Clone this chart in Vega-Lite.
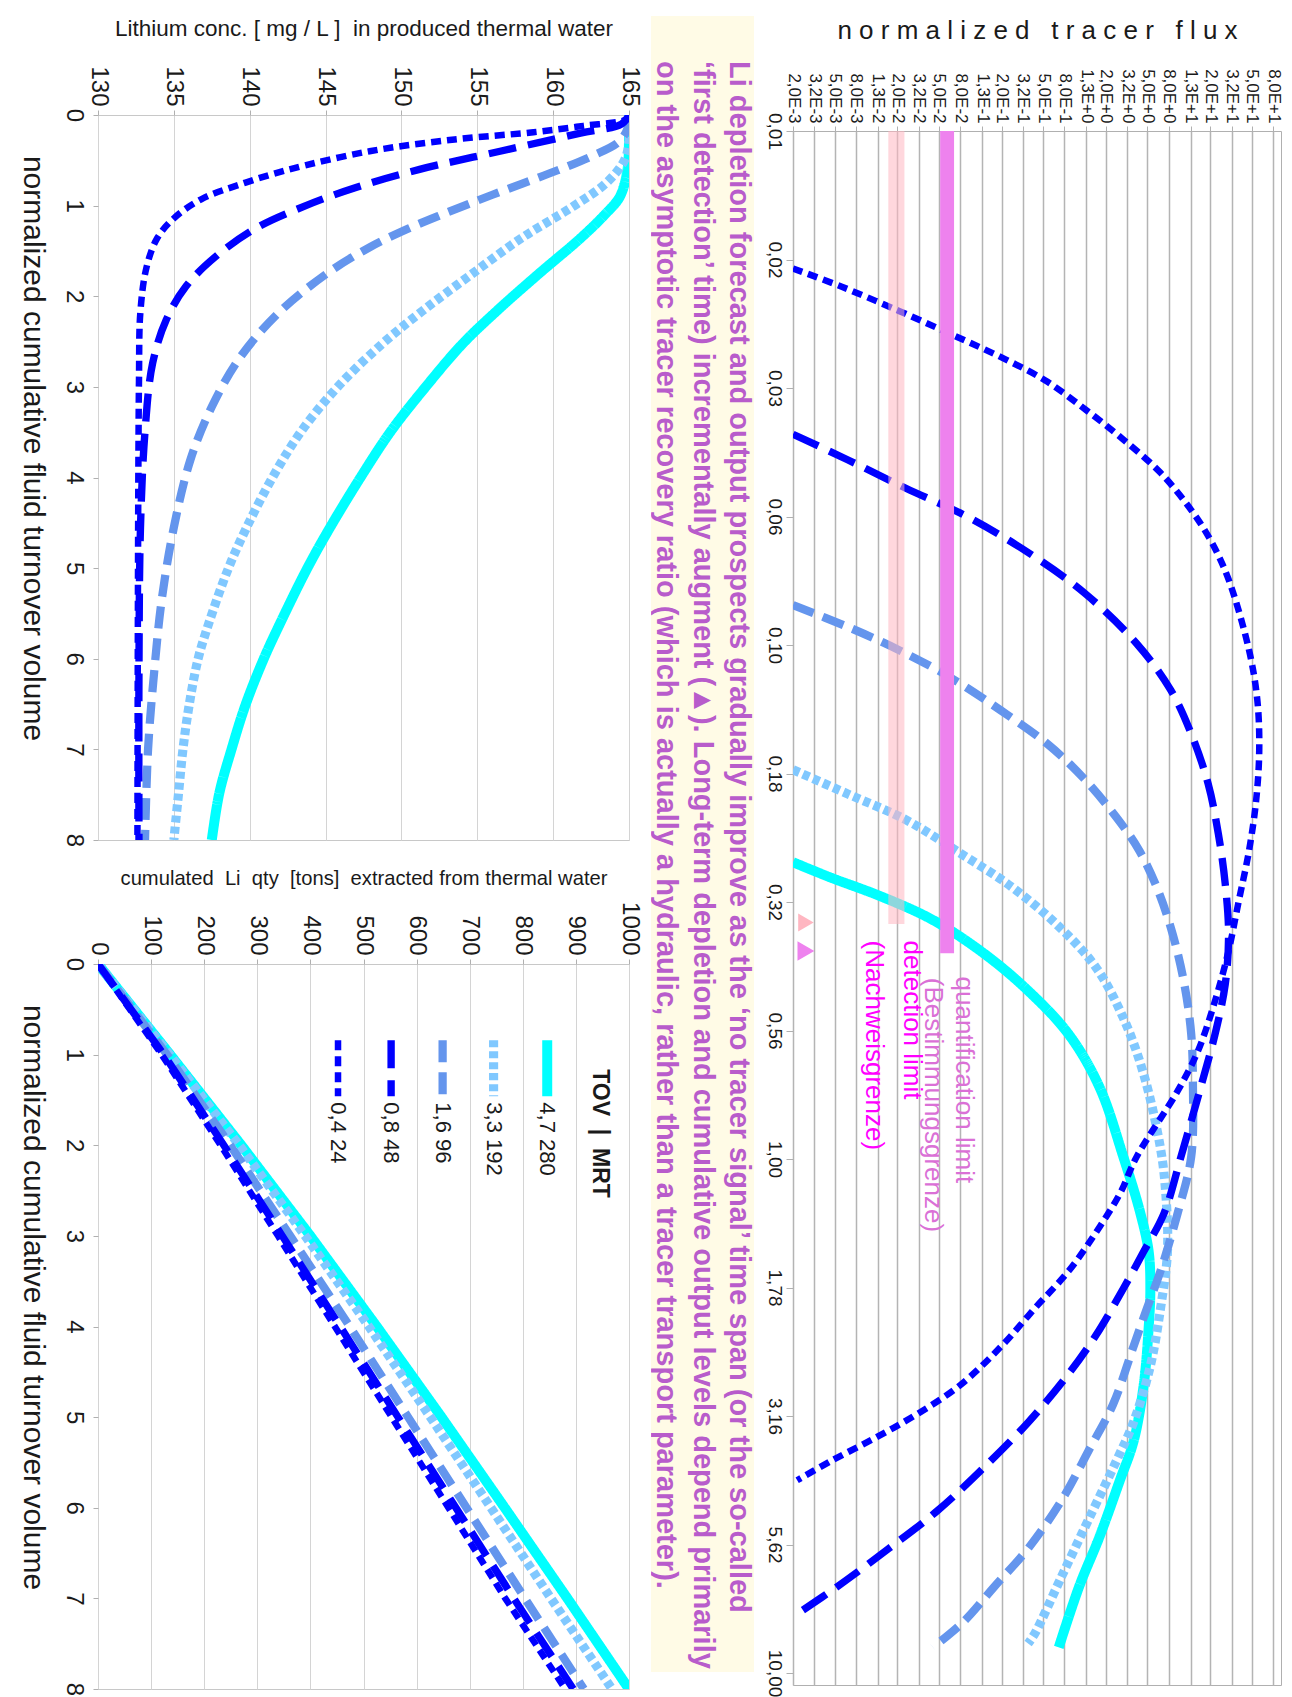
{
 "$schema": "https://vega.github.io/schema/vega-lite/v6.json",
 "background": "white",
 "padding": {"left": 16, "top": 16, "right": 0, "bottom": 0},
 "config": {
  "font": "Liberation Sans",
  "view": {"stroke": "#c8c8c8", "strokeWidth": 1},
  "axis": {"labelFont": "Liberation Sans", "titleFont": "Liberation Sans", "labelColor": "#1a1a1a", "titleColor": "#1a1a1a", "titleFontWeight": "normal", "labelOverlap": false, "labelFlush": false, "domain": false, "tickColor": "#b0b0b0"}
 },
 "datasets": {
  "conc": [
   {"s":"s1","V":0,"c":165},{"s":"s1","V":0.3,"c":165},{"s":"s1","V":0.6,"c":164.9},{"s":"s1","V":0.9,"c":164.4},{"s":"s1","V":1.1,"c":163.4},{"s":"s1","V":1.36,"c":161.8},{"s":"s1","V":1.76,"c":159},{"s":"s1","V":2.16,"c":156.3},{"s":"s1","V":2.53,"c":154},{"s":"s1","V":3.0,"c":151.6},{"s":"s1","V":3.49,"c":149.3},{"s":"s1","V":4.0,"c":147.3},{"s":"s1","V":4.55,"c":145.3},{"s":"s1","V":5.0,"c":143.8},{"s":"s1","V":5.61,"c":142},{"s":"s1","V":6.01,"c":140.9},{"s":"s1","V":6.52,"c":139.7},{"s":"s1","V":7.0,"c":138.8},{"s":"s1","V":7.48,"c":138},{"s":"s1","V":8,"c":137.5},
   {"s":"s2","V":0,"c":165},{"s":"s2","V":0.3,"c":165},{"s":"s2","V":0.5,"c":164.7},{"s":"s2","V":0.75,"c":163.5},{"s":"s2","V":1.0,"c":161.4},{"s":"s2","V":1.36,"c":157.9},{"s":"s2","V":1.76,"c":154.6},{"s":"s2","V":2.16,"c":151.4},{"s":"s2","V":2.53,"c":148.7},{"s":"s2","V":3.0,"c":145.8},{"s":"s2","V":3.49,"c":143.4},{"s":"s2","V":4.0,"c":141.5},{"s":"s2","V":4.55,"c":139.8},{"s":"s2","V":5.0,"c":138.6},{"s":"s2","V":5.61,"c":137.3},{"s":"s2","V":6.0,"c":136.6},{"s":"s2","V":6.52,"c":136.0},{"s":"s2","V":7.0,"c":135.6},{"s":"s2","V":7.5,"c":135.3},{"s":"s2","V":8,"c":135.0},
   {"s":"s3","V":0,"c":165},{"s":"s3","V":0.15,"c":164.9},{"s":"s3","V":0.3,"c":164.3},{"s":"s3","V":0.45,"c":162.6},{"s":"s3","V":0.61,"c":160.3},{"s":"s3","V":0.88,"c":156},{"s":"s3","V":1.09,"c":152.8},{"s":"s3","V":1.25,"c":150.5},{"s":"s3","V":1.46,"c":147.9},{"s":"s3","V":1.76,"c":145},{"s":"s3","V":2.2,"c":141.8},{"s":"s3","V":2.69,"c":139.3},{"s":"s3","V":3.22,"c":137.5},{"s":"s3","V":3.8,"c":136.1},{"s":"s3","V":4.55,"c":135.0},{"s":"s3","V":5.35,"c":134.2},{"s":"s3","V":6.15,"c":133.7},{"s":"s3","V":7,"c":133.3},{"s":"s3","V":8,"c":133.1},
   {"s":"s4","V":0,"c":165},{"s":"s4","V":0.1,"c":164.5},{"s":"s4","V":0.2,"c":161.8},{"s":"s4","V":0.4,"c":156.5},{"s":"s4","V":0.6,"c":151.2},{"s":"s4","V":0.8,"c":147},{"s":"s4","V":1.0,"c":143.7},{"s":"s4","V":1.25,"c":140.4},{"s":"s4","V":1.57,"c":137.7},{"s":"s4","V":1.89,"c":135.8},{"s":"s4","V":2.26,"c":134.5},{"s":"s4","V":2.74,"c":133.6},{"s":"s4","V":3.49,"c":133.1},{"s":"s4","V":4.55,"c":132.8},{"s":"s4","V":6.15,"c":132.7},{"s":"s4","V":8,"c":132.7},
   {"s":"s5","V":0,"c":165},{"s":"s5","V":0.05,"c":164.8},{"s":"s5","V":0.12,"c":162},{"s":"s5","V":0.19,"c":158.7},{"s":"s5","V":0.27,"c":153.5},{"s":"s5","V":0.4,"c":147.9},{"s":"s5","V":0.61,"c":142.4},{"s":"s5","V":0.77,"c":139.3},{"s":"s5","V":0.93,"c":136.8},{"s":"s5","V":1.14,"c":135},{"s":"s5","V":1.36,"c":133.9},{"s":"s5","V":1.68,"c":133.2},{"s":"s5","V":2.16,"c":132.8},{"s":"s5","V":2.95,"c":132.7},{"s":"s5","V":8,"c":132.6}
  ],
  "qty": [
   {"s":"s1","V":0,"q":0},{"s":"s1","V":1,"q":136},{"s":"s1","V":2,"q":270},{"s":"s1","V":3,"q":400},{"s":"s1","V":4,"q":525},{"s":"s1","V":5,"q":647},{"s":"s1","V":6,"q":766},{"s":"s1","V":7,"q":884},{"s":"s1","V":8,"q":1000},
   {"s":"s2","V":0,"q":0},{"s":"s2","V":1,"q":135},{"s":"s2","V":2,"q":266},{"s":"s2","V":3,"q":390},{"s":"s2","V":4,"q":510},{"s":"s2","V":5,"q":626},{"s":"s2","V":6,"q":740},{"s":"s2","V":7,"q":853},{"s":"s2","V":8,"q":968},
   {"s":"s3","V":0,"q":0},{"s":"s3","V":1,"q":130},{"s":"s3","V":2,"q":249},{"s":"s3","V":3,"q":362},{"s":"s3","V":4,"q":474},{"s":"s3","V":5,"q":584},{"s":"s3","V":6,"q":694},{"s":"s3","V":7,"q":804},{"s":"s3","V":8,"q":915},
   {"s":"s4","V":0,"q":0},{"s":"s4","V":1,"q":124},{"s":"s4","V":2,"q":237},{"s":"s4","V":3,"q":347},{"s":"s4","V":4,"q":456},{"s":"s4","V":5,"q":565},{"s":"s4","V":6,"q":674},{"s":"s4","V":7,"q":783},{"s":"s4","V":8,"q":895},
   {"s":"s5","V":0,"q":0},{"s":"s5","V":1,"q":120},{"s":"s5","V":2,"q":231},{"s":"s5","V":3,"q":339},{"s":"s5","V":4,"q":446},{"s":"s5","V":5,"q":553},{"s":"s5","V":6,"q":660},{"s":"s5","V":7,"q":767},{"s":"s5","V":8,"q":880}
  ],
  "legend": [
   {"s":"s1","q":846,"V":0.84,"V2":1.46,"label":"4,7 280"},
   {"s":"s2","q":745,"V":0.84,"V2":1.46,"label":"3,3 192"},
   {"s":"s3","q":649,"V":0.84,"V2":1.46,"label":"1,6 96"},
   {"s":"s4","q":552,"V":0.84,"V2":1.46,"label":"0,8 48"},
   {"s":"s5","q":452,"V":0.84,"V2":1.46,"label":"0,4 24"}
  ],
  "legendTitle": [{"q":946,"V":1.16,"txt":"TOV \u00a0|\u00a0 MRT"}],
  "note": [
   {"line":1,"txt":"Li depletion forecast and output prospects gradually improve as the ‘no tracer signal’ time span (or the so-called"},
   {"line":2,"txt":"‘first detection’ time) incrementally augment (▲). Long-term depletion and cumulative output levels depend primarily"},
   {"line":3,"txt":"on the asymptotic tracer recovery ratio (which is actually a hydraulic, rather than a tracer transport parameter)."}
  ],
  "spacer": [{"a":1}],
  "flux": [
   {"s":"s1","t":0.2646,"f":0.002},{"s":"s1","t":0.2835,"f":0.004624},{"s":"s1","t":0.309,"f":0.01429},{"s":"s1","t":0.3428,"f":0.04395},{"s":"s1","t":0.3981,"f":0.1352},{"s":"s1","t":0.4704,"f":0.3589},{"s":"s1","t":0.5722,"f":0.881},{"s":"s1","t":0.7244,"f":1.734},{"s":"s1","t":0.9886,"f":2.931},{"s":"s1","t":1.274,"f":4.276},{"s":"s1","t":1.514,"f":5.14},{"s":"s1","t":1.788,"f":5.333},{"s":"s1","t":2.126,"f":5.14},{"s":"s1","t":2.754,"f":4.603},{"s":"s1","t":3.548,"f":3.673},{"s":"s1","t":4.217,"f":2.723},{"s":"s1","t":5.433,"f":1.734},{"s":"s1","t":6.8,"f":1.104},{"s":"s1","t":8.913,"f":0.7063},
   {"s":"s2","t":0.1748,"f":0.002},{"s":"s2","t":0.195,"f":0.006745},{"s":"s2","t":0.2188,"f":0.02415},{"s":"s2","t":0.2541,"f":0.07998},{"s":"s2","t":0.2951,"f":0.2472},{"s":"s2","t":0.3527,"f":0.7063},{"s":"s2","t":0.4241,"f":1.61},{"s":"s2","t":0.5309,"f":2.931},{"s":"s2","t":0.6839,"f":4.603},{"s":"s2","t":0.955,"f":6.683},{"s":"s2","t":1.168,"f":7.499},{"s":"s2","t":1.514,"f":7.78},{"s":"s2","t":1.95,"f":6.683},{"s":"s2","t":2.526,"f":5.333},{"s":"s2","t":3.254,"f":3.673},{"s":"s2","t":3.868,"f":2.518},{"s":"s2","t":4.842,"f":1.489},{"s":"s2","t":6.457,"f":0.7603},{"s":"s2","t":8.366,"f":0.4178},{"s":"s2","t":8.759,"f":0.3589},
   {"s":"s3","t":0.08365,"f":0.002},{"s":"s3","t":0.09226,"f":0.006745},{"s":"s3","t":0.1023,"f":0.02075},{"s":"s3","t":0.1155,"f":0.06383},{"s":"s3","t":0.1341,"f":0.1972},{"s":"s3","t":0.1558,"f":0.5508},{"s":"s3","t":0.181,"f":1.205},{"s":"s3","t":0.2163,"f":2.518},{"s":"s3","t":0.2512,"f":4.178},{"s":"s3","t":0.3003,"f":6.324},{"s":"s3","t":0.3652,"f":8.73},{"s":"s3","t":0.4571,"f":11.3},{"s":"s3","t":0.5722,"f":13.15},{"s":"s3","t":0.7161,"f":13.65},{"s":"s3","t":0.9886,"f":13.15},{"s":"s3","t":1.274,"f":9.75},{"s":"s3","t":1.65,"f":6.683},{"s":"s3","t":1.95,"f":4.955},{"s":"s3","t":2.317,"f":3.673},{"s":"s3","t":3.003,"f":2.339},{"s":"s3","t":3.673,"f":1.384},{"s":"s3","t":4.597,"f":0.7603},{"s":"s3","t":5.722,"f":0.3589},{"s":"s3","t":6.8,"f":0.1694},{"s":"s3","t":7.943,"f":0.0865},{"s":"s3","t":8.913,"f":0.04395},
   {"s":"s4","t":0.0389,"f":0.002},{"s":"s4","t":0.04365,"f":0.006745},{"s":"s4","t":0.04955,"f":0.02415},{"s":"s4","t":0.05623,"f":0.0931},{"s":"s4","t":0.06607,"f":0.3589},{"s":"s4","t":0.0794,"f":1.262},{"s":"s4","t":0.09943,"f":3.954},{"s":"s4","t":0.1224,"f":8.375},{"s":"s4","t":0.1488,"f":13.15},{"s":"s4","t":0.1862,"f":19.1},{"s":"s4","t":0.233,"f":23.93},{"s":"s4","t":0.2917,"f":27.86},{"s":"s4","t":0.3652,"f":29.99},{"s":"s4","t":0.4571,"f":27.86},{"s":"s4","t":0.5722,"f":22.23},{"s":"s4","t":0.7161,"f":16.48},{"s":"s4","t":0.9886,"f":10.5},{"s":"s4","t":1.274,"f":7.228},{"s":"s4","t":1.514,"f":4.603},{"s":"s4","t":1.788,"f":2.931},{"s":"s4","t":2.2,"f":1.61},{"s":"s4","t":2.615,"f":0.881},{"s":"s4","t":3.254,"f":0.3589},{"s":"s4","t":4.074,"f":0.1205},{"s":"s4","t":4.842,"f":0.04797},{"s":"s4","t":5.722,"f":0.01663},{"s":"s4","t":6.8,"f":0.00526},{"s":"s4","t":7.674,"f":0.002193},
   {"s":"s5","t":0.01851,"f":0.002},{"s":"s5","t":0.02007,"f":0.005794},{"s":"s5","t":0.02239,"f":0.02075},{"s":"s5","t":0.02497,"f":0.069},{"s":"s5","t":0.02754,"f":0.1972},{"s":"s5","t":0.03055,"f":0.5212},{"s":"s5","t":0.03487,"f":1.285},{"s":"s5","t":0.03981,"f":2.931},{"s":"s5","t":0.04624,"f":6.683},{"s":"s5","t":0.05463,"f":13.15},{"s":"s5","t":0.0631,"f":20.65},{"s":"s5","t":0.07456,"f":29.99},{"s":"s5","t":0.1023,"f":47.1},{"s":"s5","t":0.1281,"f":56.6},{"s":"s5","t":0.1603,"f":59.0},{"s":"s5","t":0.2007,"f":55.1},{"s":"s5","t":0.2512,"f":47.1},{"s":"s5","t":0.3145,"f":37.58},{"s":"s5","t":0.3936,"f":29.99},{"s":"s5","t":0.4926,"f":22.23},{"s":"s5","t":0.6166,"f":15.24},{"s":"s5","t":0.737,"f":9.75},{"s":"s5","t":0.9886,"f":3.954},{"s":"s5","t":1.168,"f":2.723},{"s":"s5","t":1.388,"f":1.61},{"s":"s5","t":1.65,"f":0.881},{"s":"s5","t":1.95,"f":0.4178},{"s":"s5","t":2.317,"f":0.1972},{"s":"s5","t":2.754,"f":0.07998},{"s":"s5","t":3.144,"f":0.03027},{"s":"s5","t":3.487,"f":0.01227},{"s":"s5","t":3.868,"f":0.004624},{"s":"s5","t":4.217,"f":0.002193}
  ],
  "bands": [
   {"kind":"d","f1":0.0164,"f2":0.0234,"t1":0.01,"t2":0.349},
   {"kind":"q","f1":0.0515,"f2":0.070,"t1":0.01,"t2":0.398}
  ],
  "marks": [
   {"kind":"d","f":0.00266,"t":0.3467},
   {"kind":"q","f":0.00266,"t":0.3936}
  ],
  "limitText": [
   {"kind":"q","f":0.0865,"t":0.4416,"txt":"quantification limit"},
   {"kind":"q","f":0.04375,"t":0.444,"txt":"(Bestimmungsgrenze)"},
   {"kind":"d","f":0.02749,"t":0.3758,"txt":"detection limit"},
   {"kind":"d","f":0.01194,"t":0.3758,"txt":"(Nachweisgrenze)"}
  ]
 },
 "spacing": 9,
 "hconcat": [
  {
   "spacing": 0,
   "vconcat": [
    {"width": 5, "height": 1, "view": {"stroke": null}, "data": {"name": "spacer"}, "mark": {"type": "point", "size": 0, "opacity": 0}, "encoding": {}},
    {
     "spacing": 20,
     "vconcat": [
      {
       "width": 531, "height": 725,
       "data": {"name": "conc"},
       "mark": {"type": "line", "clip": true, "interpolate": "catmull-rom"},
       "encoding": {
        "x": {"field": "c", "type": "quantitative", "scale": {"domain": [130, 165], "nice": false, "zero": false},
         "axis": {"orient": "top", "values": [130,135,140,145,150,155,160,165], "format": "d", "labelAngle": 90, "labelAlign": "right", "labelBaseline": "middle", "labelFontSize": 24, "labelPadding": 4, "tickSize": 5, "grid": true, "gridColor": "#d4d4d4", "title": "Lithium conc. [ mg / L ]\u00a0 in produced thermal water", "titleFontSize": 22.5, "titlePadding": 25}},
        "y": {"field": "V", "type": "quantitative", "scale": {"domain": [0, 8], "reverse": true, "nice": false},
         "axis": {"orient": "left", "values": [0,1,2,3,4,5,6,7,8], "format": "d", "labelAngle": 90, "labelAlign": "center", "labelBaseline": "top", "labelFontSize": 24, "labelPadding": 8, "tickSize": 5, "grid": false, "title": "normalized cumulative fluid turnover volume", "titleFontSize": 30, "titleAngle": 90, "titleBaseline": "top", "titlePadding": 14, "titleY": 333}},
        "color": {"field": "s", "type": "nominal", "scale": {"domain": ["s1","s2","s3","s4","s5"], "range": ["#00FFFF","#80C8FF","#6495ED","#0000FF","#0000FF"]}, "legend": null},
        "strokeDash": {"field": "s", "type": "nominal", "scale": {"domain": ["s1","s2","s3","s4","s5"], "range": [[1,0],[7,4],[22,10],[28,12],[10,6]]}, "legend": null},
        "strokeWidth": {"field": "s", "type": "ordinal", "scale": {"domain": ["s1","s2","s3","s4","s5"], "range": [10,6.5,6,9,9]}, "legend": null},
        "order": {"field": "V", "type": "quantitative"}
       }
      },
      {
       "width": 531, "height": 725,
       "layer": [
        {
         "data": {"name": "qty"},
         "mark": {"type": "line", "clip": true},
         "encoding": {
          "x": {"field": "q", "type": "quantitative", "scale": {"domain": [0, 1000], "nice": false},
           "axis": {"orient": "top", "values": [0,100,200,300,400,500,600,700,800,900,1000], "format": "d", "labelAngle": 90, "labelAlign": "right", "labelBaseline": "middle", "labelFontSize": 24, "labelPadding": 4, "tickSize": 5, "grid": true, "gridColor": "#d4d4d4", "title": "cumulated\u00a0 Li\u00a0 qty\u00a0 [tons]\u00a0 extracted from thermal water", "titleFontSize": 20.2, "titlePadding": 13}},
          "y": {"field": "V", "type": "quantitative", "scale": {"domain": [0, 8], "reverse": true, "nice": false},
           "axis": {"orient": "left", "values": [0,1,2,3,4,5,6,7,8], "format": "d", "labelAngle": 90, "labelAlign": "center", "labelBaseline": "top", "labelFontSize": 24, "labelPadding": 8, "tickSize": 5, "grid": false, "title": "normalized cumulative fluid turnover volume", "titleFontSize": 30, "titleAngle": 90, "titleBaseline": "top", "titlePadding": 14, "titleY": 333}},
          "color": {"field": "s", "type": "nominal", "scale": {"domain": ["s1","s2","s3","s4","s5"], "range": ["#00FFFF","#80C8FF","#6495ED","#0000FF","#0000FF"]}, "legend": null},
          "strokeDash": {"field": "s", "type": "nominal", "scale": {"domain": ["s1","s2","s3","s4","s5"], "range": [[1,0],[6,4],[18,9],[22,9],[9,5]]}, "legend": null},
          "strokeWidth": {"field": "s", "type": "ordinal", "scale": {"domain": ["s1","s2","s3","s4","s5"], "range": [9,6,7,10,10]}, "legend": null},
          "order": {"field": "V", "type": "quantitative"}
         }
        },
        {
         "data": {"name": "legend"},
         "mark": {"type": "rule"},
         "encoding": {
          "x": {"field": "q", "type": "quantitative"},
          "y": {"field": "V", "type": "quantitative"},
          "y2": {"field": "V2"},
          "color": {"field": "s", "type": "nominal", "legend": null},
          "strokeDash": {"field": "s", "type": "nominal", "legend": null},
          "strokeWidth": {"field": "s", "type": "ordinal", "legend": null}
         }
        },
        {
         "data": {"name": "legend"},
         "mark": {"type": "text", "angle": 90, "align": "left", "baseline": "middle", "fontSize": 22, "color": "#1a1a1a", "dx": 6},
         "encoding": {
          "x": {"field": "q", "type": "quantitative"},
          "y": {"field": "V2", "type": "quantitative"},
          "text": {"field": "label"}
         }
        },
        {
         "data": {"name": "legendTitle"},
         "mark": {"type": "text", "angle": 90, "align": "left", "baseline": "middle", "fontSize": 23, "fontWeight": "bold", "color": "#1a1a1a"},
         "encoding": {
          "x": {"field": "q", "type": "quantitative"},
          "y": {"field": "V", "type": "quantitative"},
          "text": {"field": "txt"}
         }
        }
       ]
      }
     ]
    }
   ]
  },
  {
   "width": 103, "height": 1656,
   "view": {"stroke": null, "fill": "#FFFBE6"},
   "data": {"name": "note"},
   "mark": {"type": "text", "angle": 90, "align": "left", "baseline": "middle", "font": "Liberation Sans", "fontWeight": "bold", "fontSize": 29, "color": "#B85CCB", "dx": -783, "clip": true},
   "encoding": {
    "x": {"field": "line", "type": "ordinal", "scale": {"domain": [3, 2, 1], "padding": 0.43}, "axis": null},
    "text": {"field": "txt"}
   }
  },
  {
   "spacing": 0,
   "vconcat": [
    {"width": 5, "height": 1, "view": {"stroke": null}, "data": {"name": "spacer"}, "mark": {"type": "point", "size": 0, "opacity": 0}, "encoding": {}},
    {
     "width": 488, "height": 1554,
     "view": {"stroke": "#b0b0b0"},
     "layer": [
      {
       "data": {"name": "flux"},
       "mark": {"type": "line", "clip": true, "interpolate": "catmull-rom"},
       "encoding": {
        "x": {"field": "f", "type": "quantitative", "scale": {"type": "log", "domain": [0.002, 95.4], "nice": false},
         "axis": {"orient": "top", "values": [0.002,0.0032,0.005,0.008,0.013,0.02,0.032,0.05,0.08,0.13,0.2,0.32,0.5,0.8,1.3,2,3.2,5,8,13,20,32,50,80], "labelExpr": "replace(replace(format(datum.value, '.1e'), '.', ','), 'e', 'E')", "labelAngle": 90, "labelAlign": "right", "labelBaseline": "middle", "labelFontSize": 17, "labelPadding": 3, "tickSize": 5, "grid": true, "gridColor": "#b4b4b4", "gridWidth": 1.5, "title": "n o r m a l i z e d \u00a0 t r a c e r \u00a0 f l u x", "titleFontSize": 26, "titlePadding": 25}},
        "y": {"field": "t", "type": "quantitative", "scale": {"type": "log", "domain": [0.01, 10.55], "reverse": true, "nice": false},
         "axis": {"orient": "left", "values": [0.01,0.017783,0.031623,0.056234,0.1,0.177828,0.316228,0.562341,1,1.778279,3.162278,5.623413,10], "labelExpr": "replace(format(datum.value, '.2f'), '.', ',')", "labelAngle": 90, "labelAlign": "center", "labelBaseline": "top", "labelFontSize": 19, "labelPadding": 3, "tickSize": 7, "grid": false, "title": null}},
        "color": {"field": "s", "type": "nominal", "scale": {"domain": ["s1","s2","s3","s4","s5"], "range": ["#00FFFF","#80C8FF","#6495ED","#0000FF","#0000FF"]}, "legend": null},
        "strokeDash": {"field": "s", "type": "nominal", "scale": {"domain": ["s1","s2","s3","s4","s5"], "range": [[1,0],[19,13],[10,7],[24,12],[11,7]]}, "legend": null},
        "strokeWidth": {"field": "s", "type": "ordinal", "scale": {"domain": ["s1","s2","s3","s4","s5"], "range": [13,10,10,12,11]}, "legend": null},
        "order": {"field": "t", "type": "quantitative"}
       }
      },
      {
       "data": {"name": "bands"},
       "transform": [{"filter": "datum.kind == 'd'"}],
       "mark": {"type": "rect", "color": "#FFB6C1", "opacity": 0.55},
       "encoding": {
        "x": {"field": "f1", "type": "quantitative"}, "x2": {"field": "f2"},
        "y": {"field": "t1", "type": "quantitative"}, "y2": {"field": "t2"}
       }
      },
      {
       "data": {"name": "bands"},
       "transform": [{"filter": "datum.kind == 'q'"}],
       "mark": {"type": "rect", "color": "#EE82EE"},
       "encoding": {
        "x": {"field": "f1", "type": "quantitative"}, "x2": {"field": "f2"},
        "y": {"field": "t1", "type": "quantitative"}, "y2": {"field": "t2"}
       }
      },
      {
       "data": {"name": "marks"},
       "transform": [{"filter": "datum.kind == 'd'"}],
       "mark": {"type": "point", "shape": "triangle-right", "filled": true, "size": 320, "color": "#FFB6C1", "opacity": 1},
       "encoding": {
        "x": {"field": "f", "type": "quantitative"},
        "y": {"field": "t", "type": "quantitative"}
       }
      },
      {
       "data": {"name": "marks"},
       "transform": [{"filter": "datum.kind == 'q'"}],
       "mark": {"type": "point", "shape": "triangle-right", "filled": true, "size": 380, "color": "#EE82EE", "opacity": 1},
       "encoding": {
        "x": {"field": "f", "type": "quantitative"},
        "y": {"field": "t", "type": "quantitative"}
       }
      },
      {
       "data": {"name": "limitText"},
       "transform": [{"filter": "datum.kind == 'q'"}],
       "mark": {"type": "text", "angle": 90, "align": "left", "baseline": "middle", "fontSize": 26, "color": "#DA70D6"},
       "encoding": {
        "x": {"field": "f", "type": "quantitative"},
        "y": {"field": "t", "type": "quantitative"},
        "text": {"field": "txt"}
       }
      },
      {
       "data": {"name": "limitText"},
       "transform": [{"filter": "datum.kind == 'd'"}],
       "mark": {"type": "text", "angle": 90, "align": "left", "baseline": "middle", "fontSize": 26, "color": "#FF00FF"},
       "encoding": {
        "x": {"field": "f", "type": "quantitative"},
        "y": {"field": "t", "type": "quantitative"},
        "text": {"field": "txt"}
       }
      }
     ]
    }
   ]
  }
 ]
}
